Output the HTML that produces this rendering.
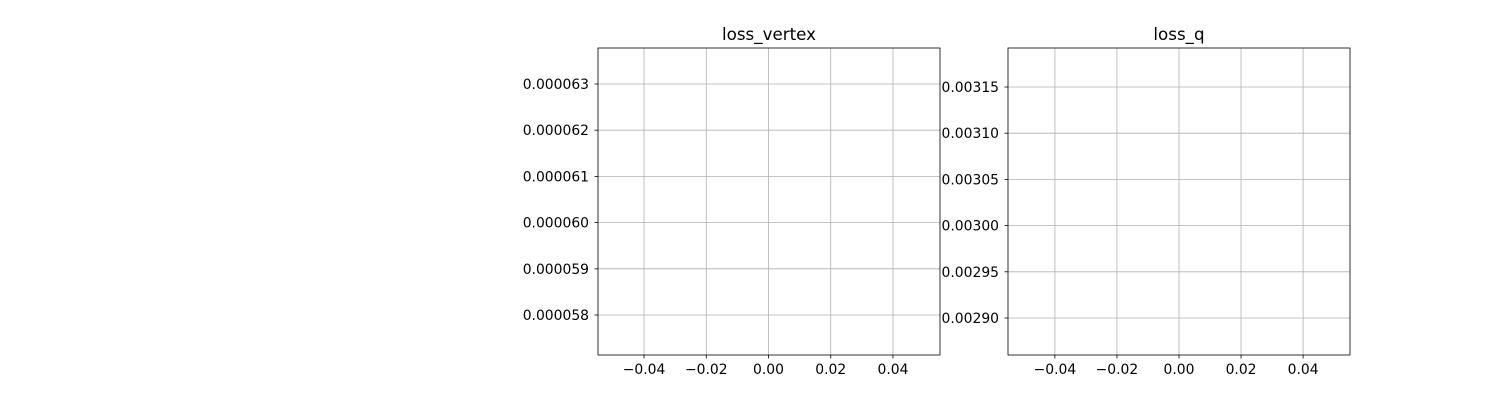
<!DOCTYPE html>
<html><head><meta charset="utf-8"><style>
html,body{margin:0;padding:0;background:#fff}
svg{display:block;font-family:"DejaVu Sans","Liberation Sans",sans-serif}
</style></head><body>
<svg id="fig" width="1500" height="400" xmlns="http://www.w3.org/2000/svg"></svg>
<script>
const xTickValues = [-0.04, -0.02, 0.00, 0.02, 0.04];
const xTickLabels = ["\u22120.04", "\u22120.02", "0.00", "0.02", "0.04"];
const vertexYTicks = [0.000063, 0.000062, 0.000061, 0.000060, 0.000059, 0.000058];
const vertexYLabels = ["0.000063", "0.000062", "0.000061", "0.000060", "0.000059", "0.000058"];
const qYTicks = [0.00315, 0.00310, 0.00305, 0.00300, 0.00295, 0.00290];
const qYLabels = ["0.00315", "0.00310", "0.00305", "0.00300", "0.00295", "0.00290"];
const vertexValues = [];
const qValues = [];

const NS = "http://www.w3.org/2000/svg";
const svg = document.getElementById("fig");
function mk(tag, attrs, parent) {
  const e = document.createElementNS(NS, tag);
  for (const k in attrs) e.setAttribute(k, attrs[k]);
  (parent || svg).appendChild(e);
  return e;
}
function panel(name, title, left, right, top, bottom, xDom, yDom, yTicks, yLabels, values) {
  const g = mk("g", {});
  
  
  const xs = v => left + (v - xDom[0]) / (xDom[1] - xDom[0]) * (right - left);
  const ys = v => bottom - (v - yDom[0]) / (yDom[1] - yDom[0]) * (bottom - top);
  xTickValues.forEach((v, i) => {
    const x = xs(v);
    const gl = mk("line", {x1: x, x2: x, y1: top, y2: bottom, stroke: "#b0b0b0", "stroke-width": 0.8}, g);
    
    
    mk("line", {x1: x, x2: x, y1: bottom, y2: bottom + 3.5, stroke: "#000", "stroke-width": 0.8}, g);
    const t = mk("text", {x: x, y: bottom + 19, "text-anchor": "middle", "font-size": 13.9}, g);
    t.textContent = xTickLabels[i];
    
    
  });
  yTicks.forEach((v, i) => {
    const y = ys(v);
    const gl = mk("line", {x1: left, x2: right, y1: y, y2: y, stroke: "#b0b0b0", "stroke-width": 0.8}, g);
    
    
    mk("line", {x1: left - 3.5, x2: left, y1: y, y2: y, stroke: "#000", "stroke-width": 0.8}, g);
    const t = mk("text", {x: left - 9, y: y + 5, "text-anchor": "end", "font-size": 13.9}, g);
    t.textContent = yLabels[i];
    
    
  });
  values.forEach((v, i) => {
    const c = mk("circle", {cx: xs(0), cy: ys(v), r: 3, fill: "#1f77b4"}, g);
    
    
  });
  const fr = mk("rect", {x: left, y: top, width: right - left, height: bottom - top, fill: "none", stroke: "#000", "stroke-width": 0.8}, g);
  
  
  const tt = mk("text", {x: (left + right) / 2, y: top - 8, "text-anchor": "middle", "font-size": 16.7}, g);
  tt.textContent = title;
  
  
}
panel("loss-vertex", "loss_vertex", 598, 940, 48, 355,
  [-0.04 - (644 - 598) / 3110, 0.04 + (940 - 893) / 3110],
  [0.000058 - (355 - 315) / 46200000, 0.000063 + (84 - 48) / 46200000],
  vertexYTicks, vertexYLabels, vertexValues);
panel("loss-q", "loss_q", 1008, 1350, 48, 355,
  [-0.04 - (1055 - 1008) / 3110, 0.04 + (1350 - 1303) / 3110],
  [0.00290 - (355 - 318) / 924000, 0.00315 + (87 - 48) / 924000],
  qYTicks, qYLabels, qValues);
</script>
</body></html>
